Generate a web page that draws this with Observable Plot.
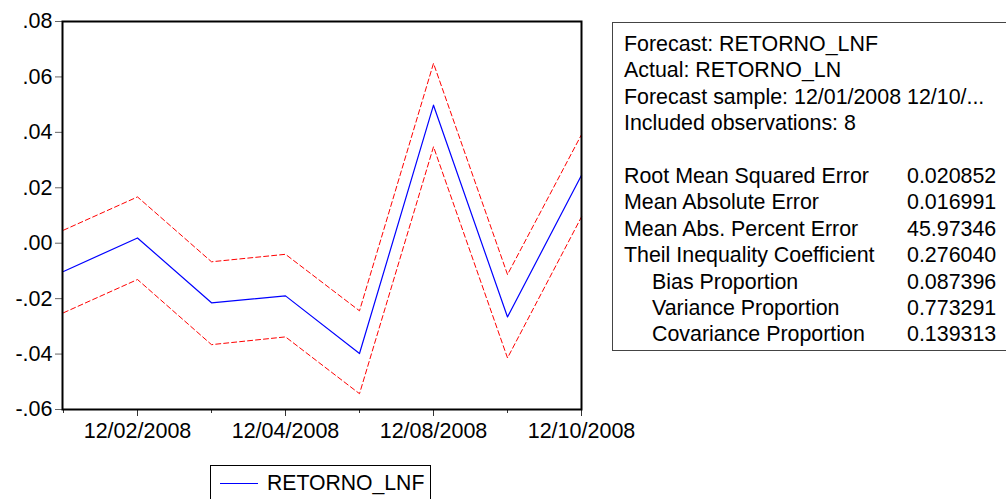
<!DOCTYPE html>
<html><head><meta charset="utf-8">
<script src="https://cdn.jsdelivr.net/npm/d3@7"></script>
<script src="https://cdn.jsdelivr.net/npm/@observablehq/plot@0.6"></script>
<style>
body{margin:0;background:#fff;}
#wrap{position:relative;width:1006px;height:499px;overflow:hidden;font-family:"Liberation Sans",Arial,sans-serif;color:#000;}
#wrap svg.plot{position:absolute;left:0;top:0;}
#stats{position:absolute;left:612px;top:22px;width:500px;height:329px;border:1px solid #444;box-sizing:border-box;font-size:21.4px;}
#stats .row{position:absolute;left:11px;height:26.4px;line-height:26.4px;white-space:nowrap;}
#legend{position:absolute;left:210px;top:465px;width:221px;height:60px;border:1px solid #000;box-sizing:border-box;font-size:21.2px;}
#legend .sw{position:absolute;left:9px;top:17px;width:38px;height:0;border-top:1px solid #0000ff;}
#legend .lb{position:absolute;left:56px;top:4px;line-height:26px;white-space:nowrap;}
</style></head><body><div id="wrap"></div>
<script>
const dates = ["12/01/2008","12/02/2008","12/03/2008","12/04/2008","12/05/2008","12/08/2008","12/09/2008","12/10/2008"];
const labeledDates = ["12/02/2008","12/04/2008","12/08/2008","12/10/2008"];
const forecast = [-0.0102, 0.0019, -0.0215, -0.0190, -0.0398, 0.0498, -0.0266, 0.0245];
const upper = [0.0047, 0.0167, -0.0067, -0.0040, -0.0244, 0.0649, -0.0113, 0.0392];
const lower = [-0.0251, -0.0131, -0.0366, -0.0338, -0.0543, 0.0348, -0.0414, 0.0095];
const yTicks = [-0.06, -0.04, -0.02, 0, 0.02, 0.04, 0.06, 0.08];
const headerLines = ["Forecast: RETORNO_LNF", "Actual: RETORNO_LN", "Forecast sample: 12/01/2008 12/10/...", "Included observations: 8"];
const statNames = ["Root Mean Squared Error", "Mean Absolute Error", "Mean Abs. Percent Error", "Theil Inequality Coefficient", "Bias Proportion", "Variance Proportion", "Covariance Proportion"];
const statValues = ["0.020852", "0.016991", "45.97346", "0.276040", "0.087396", "0.773291", "0.139313"];
const statIndent = [false, false, false, false, true, true, true];
const legendLabel = "RETORNO_LNF";

const rows = dates.map((d, i) => ({date: d, f: forecast[i], u: upper[i], l: lower[i]}));
const fmtY = d => (d < 0 ? "-" : "") + Math.abs(d).toFixed(2).slice(1);
const unlabeledDates = dates.filter(d => !labeledDates.includes(d));

const chart = Plot.plot({
  width: 1006, height: 499,
  marginLeft: 62, marginRight: 425, marginTop: 21, marginBottom: 90,
  style: {fontFamily: '"Liberation Sans", Arial, sans-serif', fontSize: "21.5px", color: "#000", background: "transparent"},
  x: {type: "point", domain: dates, padding: 0},
  y: {domain: [-0.06, 0.08]},
  marks: [
    Plot.axisY({ticks: yTicks, tickFormat: fmtY, tickSize: 7, tickPadding: 3, stroke: "#666", fill: "#000", label: null}),
    Plot.axisX({ticks: labeledDates, tickSize: 7, tickPadding: 6, stroke: "#333", fill: "#000", label: null}),
    Plot.axisX({ticks: unlabeledDates, tickFormat: () => "", tickSize: 4, stroke: "#333", label: null}),
    Plot.lineY(rows, {x: "date", y: "u", stroke: "#ff0000", strokeWidth: 1, strokeDasharray: "5,3"}),
    Plot.lineY(rows, {x: "date", y: "l", stroke: "#ff0000", strokeWidth: 1, strokeDasharray: "5,3"}),
    Plot.lineY(rows, {x: "date", y: "f", stroke: "#0000ff", strokeWidth: 1.2}),
    Plot.frame({stroke: "#000", strokeWidth: 2})
  ]
});
chart.classList.add("plot");
const wrap = document.getElementById("wrap");
wrap.appendChild(chart);

const stats = document.createElement("div");
stats.id = "stats";
const rowH = 26.4, top0 = 8;
headerLines.forEach((t, i) => {
  const r = document.createElement("div");
  r.className = "row"; r.style.top = (top0 + i * rowH) + "px"; r.textContent = t;
  stats.appendChild(r);
});
statNames.forEach((t, i) => {
  const r = document.createElement("div");
  r.className = "row"; r.style.top = (top0 + (i + 5) * rowH) + "px";
  r.style.left = (statIndent[i] ? 39 : 11) + "px";
  r.textContent = t;
  stats.appendChild(r);
  const v = document.createElement("div");
  v.className = "row"; v.style.top = (top0 + (i + 5) * rowH) + "px"; v.style.left = "294px";
  v.textContent = statValues[i];
  stats.appendChild(v);
});
wrap.appendChild(stats);

const legend = document.createElement("div");
legend.id = "legend";
legend.innerHTML = '<div class="sw"></div><div class="lb"></div>';
legend.querySelector(".lb").textContent = legendLabel;
wrap.appendChild(legend);
</script>
</body></html>
